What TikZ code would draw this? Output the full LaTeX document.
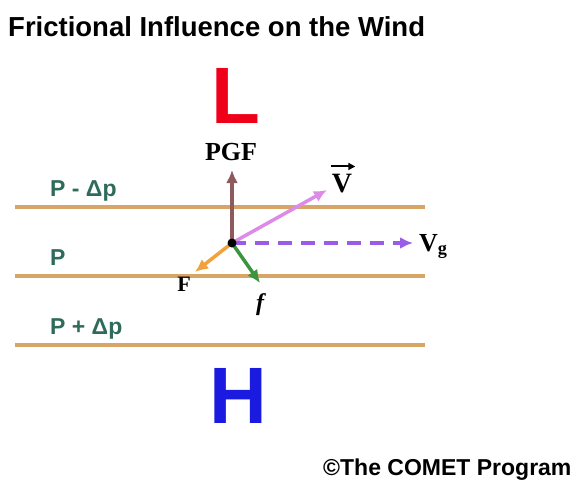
\documentclass[tikz,border=0pt]{standalone}
\usepackage{fontspec}
\setmainfont{Liberation Serif}
\newfontfamily\sansfont{Liberation Sans}
\usetikzlibrary{arrows.meta}
\definecolor{isobar}{HTML}{D9A566}
\definecolor{isotext}{HTML}{2F6B5A}
\definecolor{lowred}{HTML}{F00018}
\definecolor{highblue}{HTML}{1A1AE0}
\definecolor{pgfbrown}{HTML}{8E5A5E}
\definecolor{windpink}{HTML}{DC8CE6}
\definecolor{geopurple}{HTML}{9A5CE8}
\definecolor{fricorange}{HTML}{F2A23C}
\definecolor{fricgreen}{HTML}{3A953E}

\begin{document}
\begin{tikzpicture}[x=1pt,y=-1pt,>={Latex[length=13pt,width=12pt]},
    isoline/.style={draw=isobar,line width=3.5pt},
    isolabel/.style={anchor=base west,inner sep=0pt,text=isotext,font=\sansfont\bfseries\fontsize{23}{26}\selectfont},
    vec/.style={->,line width=3.5pt},
    veclabel/.style={inner sep=0pt,font=\bfseries\fontsize{26}{28}\selectfont}]
  \useasboundingbox (0,0) rectangle (574,480);
  \node[anchor=base west,inner sep=0pt,font=\sansfont\bfseries\fontsize{27.5}{30}\selectfont] (title) at (8,36) {Frictional Influence on the Wind};
  % highs and lows
  \node[inner sep=0pt,text=lowred,font=\sansfont\bfseries\fontsize{80}{80}\selectfont] (low) at (236,95.5) {L};
  \node[inner sep=0pt,text=highblue,font=\sansfont\bfseries\fontsize{80}{80}\selectfont] (high) at (238.5,396) {H};
  % isobars
  \draw[isoline] (15,207) -- (425,207);
  \draw[isoline] (15,276) -- (425,276);
  \draw[isoline] (15,345) -- (425,345);
  \node[isolabel] (pminus) at (50,196) {P - Δp};
  \node[isolabel] (pmid) at (50,265) {P};
  \node[isolabel] (pplus) at (50,334) {P + Δp};
  % forces
  \coordinate (o) at (232,243);
  \coordinate (pgftip) at (232,170);
  \coordinate (vtip) at (327,190);
  \coordinate (vgtip) at (413,243);
  \coordinate (Ftip) at (195,272);
  \coordinate (ftip) at (260,283);
  \draw[vec,pgfbrown] (o) -- (pgftip);
  \draw[vec,windpink] (o) -- (vtip);
  \draw[vec,geopurple,dash pattern=on 14pt off 9pt] (o) -- (vgtip);
  \draw[vec,fricorange] (o) -- (Ftip);
  \draw[vec,fricgreen] (o) -- (ftip);
  \fill (o) circle (4.5pt);
  \node[veclabel] (pgf) at (231,152) {PGF};
  \node[veclabel,anchor=base,font=\bfseries\fontsize{28}{30}\selectfont] (v) at (342,192) {V};
  \draw[-{Triangle[length=7pt,width=7pt]},line width=2pt] ([shift={(-1,-7)}]v.north west) -- ([shift={(3,-7)}]v.north east);
  \node[veclabel,anchor=base west] (vg) at (419,251) {V\textsubscript{g}};
  \node[veclabel,font=\bfseries\fontsize{22}{24}\selectfont] (F) at (184,284) {F};
  \node[veclabel,font=\bfseries\itshape\fontsize{24}{26}\selectfont] (f) at (260,305) {f};
  \node[anchor=base west,inner sep=0pt,font=\sansfont\bfseries\fontsize{23}{26}\selectfont] (credit) at (323,475) {\textcopyright The COMET Program};
\end{tikzpicture}
\end{document}
